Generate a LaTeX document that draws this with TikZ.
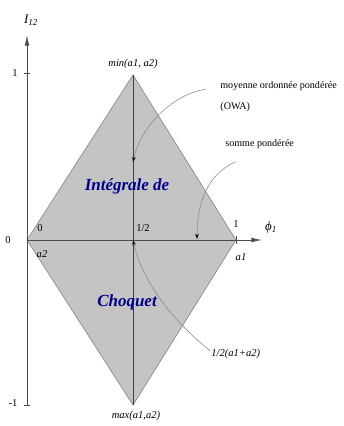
\documentclass[tikz,border=0pt]{standalone}
\usepackage{fontspec}
\setmainfont{Liberation Serif}
\usetikzlibrary{arrows.meta}

\begin{document}
\begin{tikzpicture}[x=0.03cm, y=-0.03cm, every node/.style={font=\fontsize{9}{10}\selectfont, inner sep=1pt},
	axis/.style={draw=black!70, line width=0.8pt},
	lbl/.style={font=\fontsize{9}{10}\selectfont\itshape},
	axname/.style={font=\fontsize{11}{12}\selectfont\itshape},
	note/.style={font=\fontsize{8.6}{10}\selectfont, anchor=west},
	titre/.style={font=\fontsize{14.5}{16}\selectfont\bfseries\itshape, text=blue!55!black},
	callout/.style={draw=black!45, line width=0.5pt, -{Stealth[length=4.5pt,width=3pt,black]}}]
	\useasboundingbox (0,0) rectangle (344,426);
	% the four corners of the square of capacities
	\coordinate (O) at (27,240);
	\coordinate (T) at (133,75);
	\coordinate (R) at (236,240);
	\coordinate (B) at (133,405);
	\coordinate (M) at (133,240);
	\fill[black!23] (O) -- (T) -- (R) -- (B) -- cycle;
	\draw[black!45, line width=0.6pt] (O) -- (T) -- (R) -- (B) -- cycle;
	\draw[black!75, line width=0.7pt] (T) -- (B);
	% axes
	\draw[axis, -{Latex[length=9pt,width=4pt]}] (27,405) -- (27,35);
	\draw[axis, -{Latex[length=9pt,width=4pt]}] (O) -- (262,240);
	\draw[axis] (24,73) -- (30,73);
	\draw[axis] (24,405) -- (30,405);
	\draw[axis] (236,236) -- (236,244);
	\node[axname] (yname) at (31,20) {I\textsubscript{12}};
	\node[axname] (xname) at (271,227) {ϕ\textsubscript{1}};
	\node (yone) at (15,73) {1};
	\node (yzero) at (8,240) {0};
	\node (ymone) at (13,403) {-1};
	% corners and middle
	\node[lbl] (vmin) at (133,64) {min(a1, a2)};
	\node[lbl] (vmax) at (136,416) {max(a1,a2)};
	\node (zero) at (40,228) {0};
	\node[lbl] (atwo) at (42,254) {a2};
	\node (half) at (143,228) {1/2};
	\node (xone) at (236,224) {1};
	\node[lbl] (aone) at (241,257) {a1};
	\node[titre] (integ) at (127,186) {Intégrale de};
	\node[titre] (choq) at (127,302) {Choquet};
	% remarks
	\node[note] (moy) at (219,86) {moyenne ordonnée pondérée};
	\node[note] (owa) at (219,107) {(OWA)};
	\node[note] (somme) at (224,144) {somme pondérée};
	\node[lbl, anchor=west] (demi) at (210,354) {1/2(a1+a2)};
	\coordinate (owaend) at (133,162);
	\coordinate (sommeend) at (197,239);
	\draw[callout] ([xshift=-0.4cm,yshift=-0.1cm]moy.west) .. controls (172,94) and (140,128) .. (owaend);
	\draw[callout] ([xshift=0.35cm,yshift=-0.35cm]somme.south west) .. controls (206,175) and (197,205) .. (sommeend);
	\draw[callout] ([yshift=0.1cm]demi.west) .. controls (162,312) and (140,272) .. (M);
\end{tikzpicture}
\end{document}
